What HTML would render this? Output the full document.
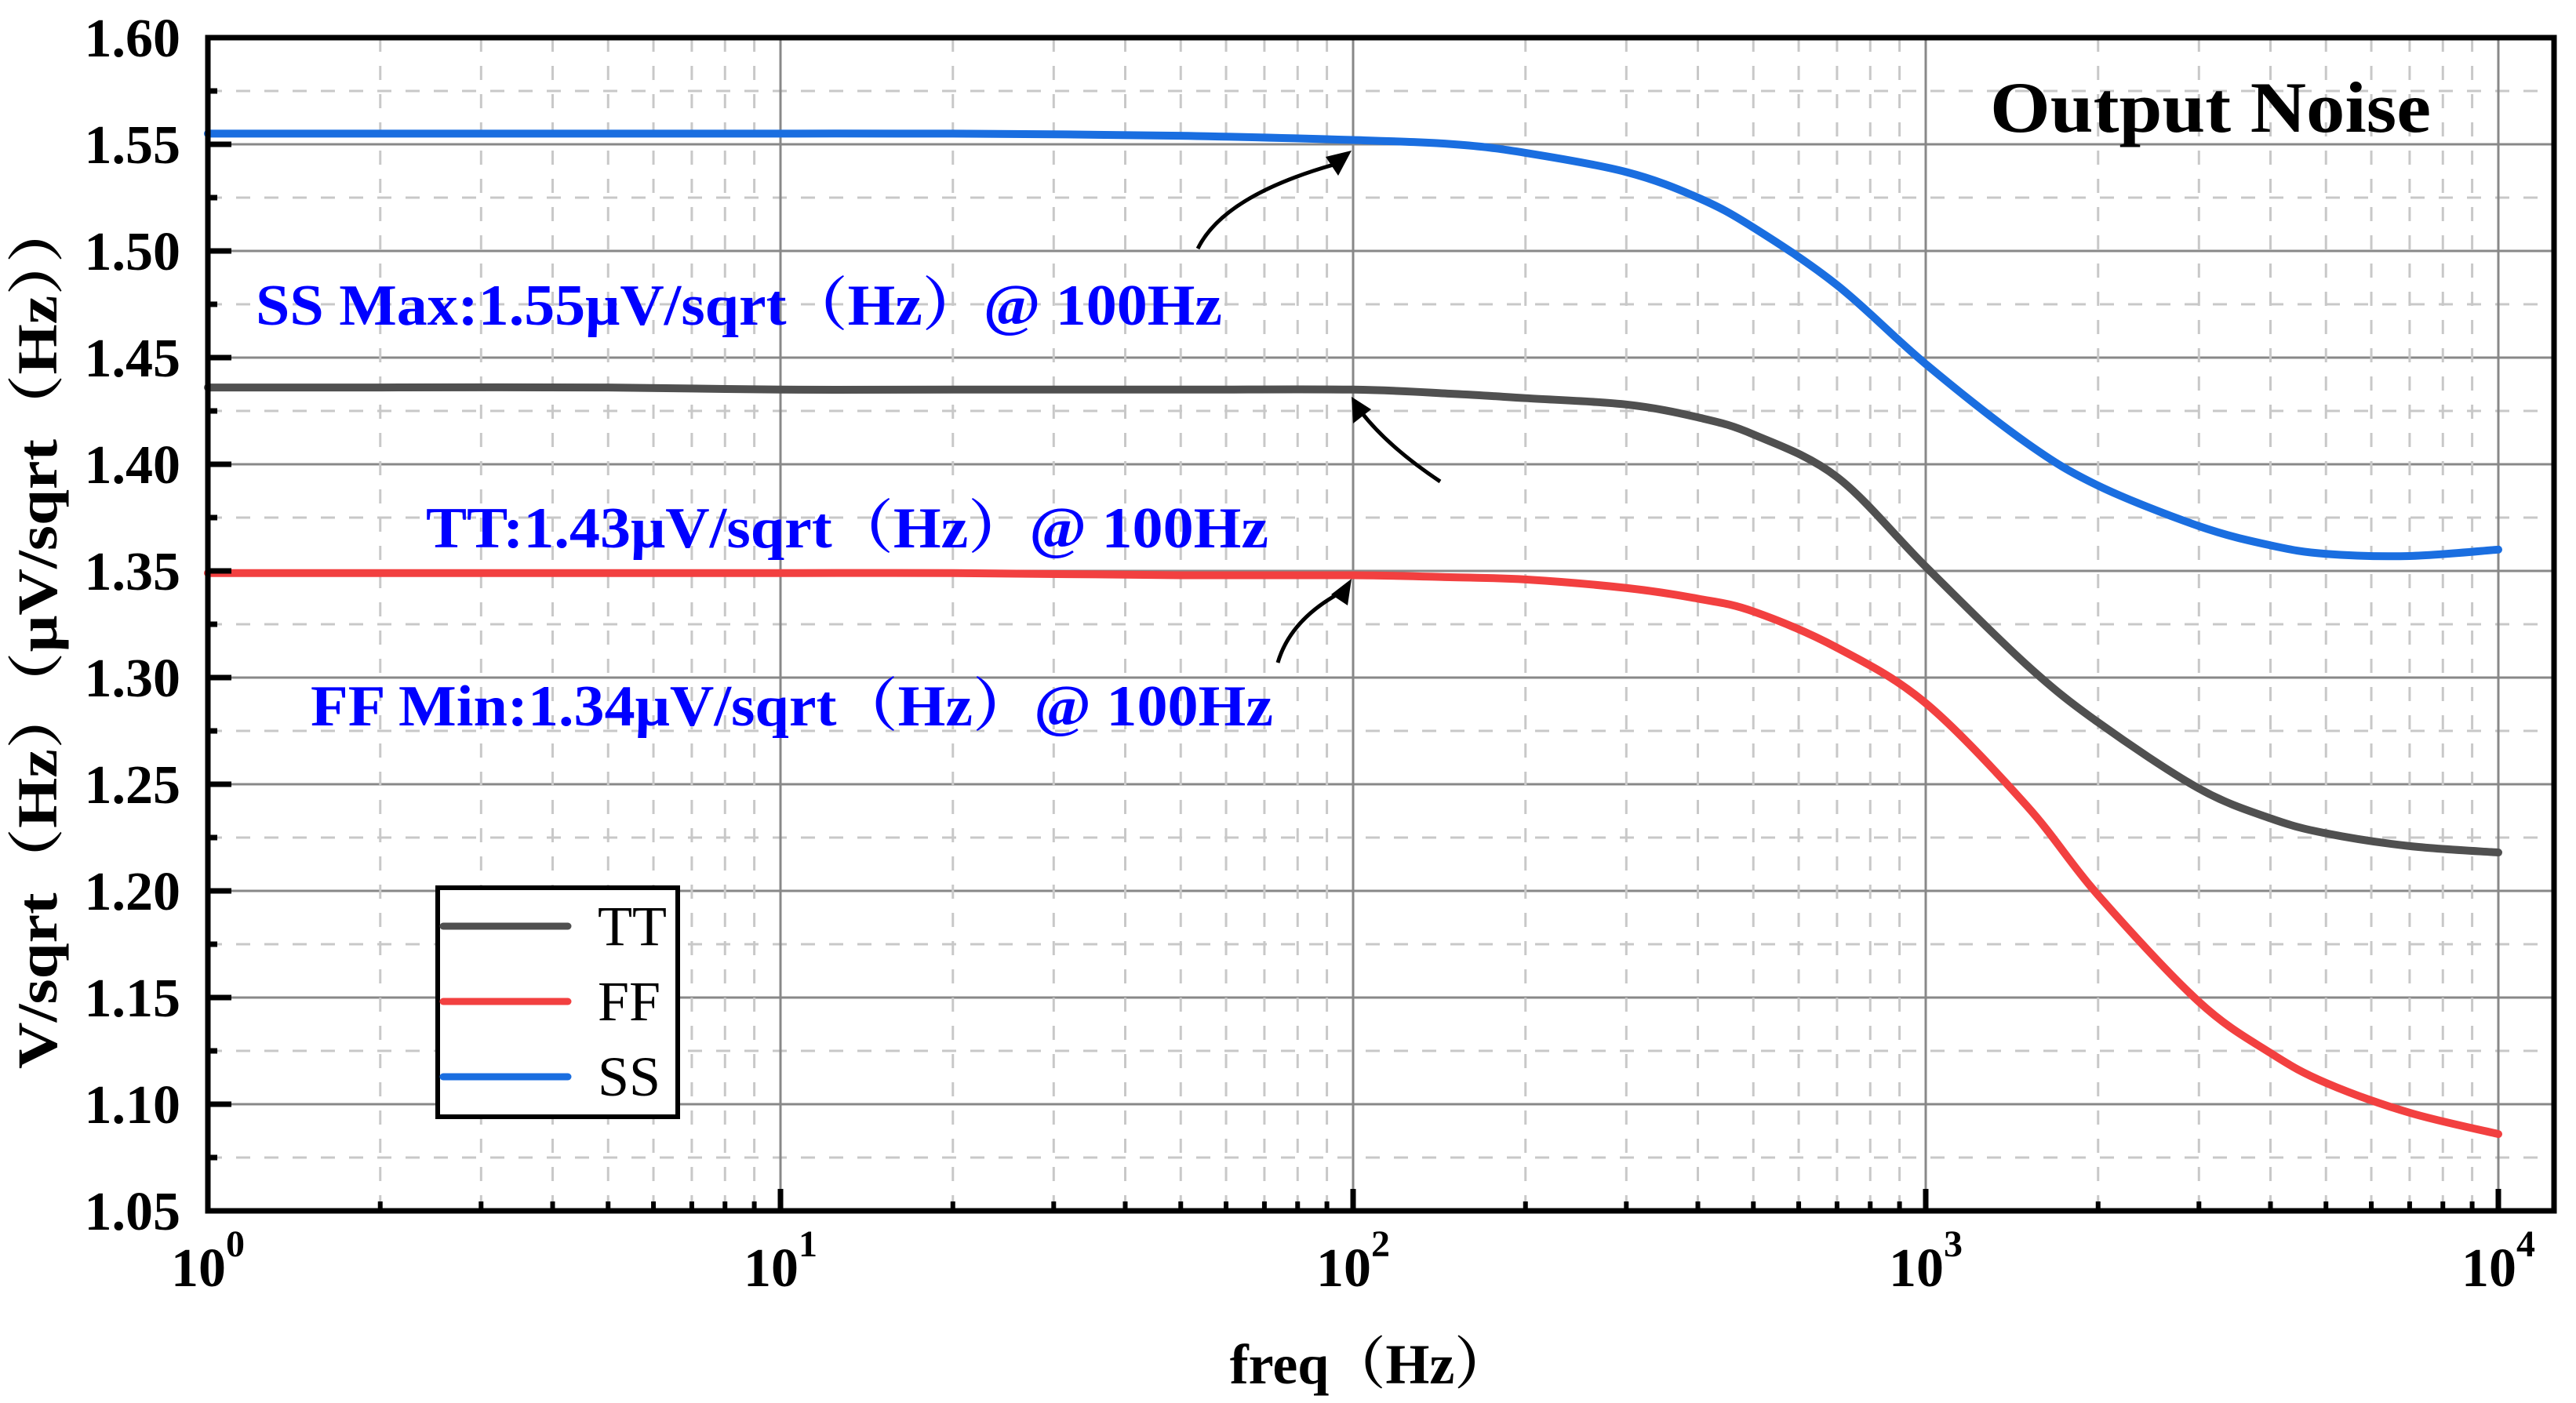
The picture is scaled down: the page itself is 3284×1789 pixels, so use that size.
<!DOCTYPE html>
<html><head><meta charset="utf-8"><style>
html,body{margin:0;padding:0;background:#fff;}
svg{display:block;}
text{font-family:"Liberation Serif","Noto Serif CJK SC",serif;}
</style></head><body>
<svg id="chart" width="3284" height="1789" viewBox="0 0 3284 1789" xmlns="http://www.w3.org/2000/svg">
<g id="grid"></g>
<g id="series"></g>
<g id="axes"></g>
<g id="ticklabels"></g>
<text x="2537" y="168" font-size="92" font-weight="bold" textLength="562" lengthAdjust="spacingAndGlyphs">Output Noise</text>
<text x="326" y="414" font-size="74" font-weight="bold" fill="#0000ff" textLength="1232" lengthAdjust="spacingAndGlyphs">SS Max:1.55μV/sqrt（Hz）@ 100Hz</text>
<text x="543" y="698" font-size="74" font-weight="bold" fill="#0000ff" textLength="1074" lengthAdjust="spacingAndGlyphs">TT:1.43μV/sqrt（Hz）@ 100Hz</text>
<text x="396" y="925" font-size="74" font-weight="bold" fill="#0000ff" textLength="1227" lengthAdjust="spacingAndGlyphs">FF Min:1.34μV/sqrt（Hz）@ 100Hz</text>
<g stroke="#000" stroke-width="5" fill="none">
<path d="M1527,317 Q1560,250 1700,210"/>
<path d="M1836,614 Q1770,570 1735,525"/>
<path d="M1629,845 Q1645,790 1710,755"/>
</g>
<g fill="#000">
<polygon points="1723,192 1690,200 1706,224"/>
<polygon points="1723,506 1725,540 1748,522"/>
<polygon points="1723,738 1697,758 1718,772"/>
</g>
<text x="1747" y="1764" font-size="72" font-weight="bold" text-anchor="middle">freq（Hz）</text>
<text transform="translate(72,808) rotate(-90)" font-size="72" font-weight="bold" text-anchor="middle" textLength="1110" lengthAdjust="spacingAndGlyphs">V/sqrt（Hz）（μV/sqrt（Hz））</text>
<g>
<rect x="558" y="1132" width="306" height="292" fill="#fff" stroke="#000" stroke-width="6"/>
<line x1="565" y1="1181" x2="724" y2="1181" stroke="#505050" stroke-width="9" stroke-linecap="round"/>
<line x1="565" y1="1277" x2="724" y2="1277" stroke="#f24040" stroke-width="9" stroke-linecap="round"/>
<line x1="565" y1="1373" x2="724" y2="1373" stroke="#1a6ee0" stroke-width="9" stroke-linecap="round"/>
<text x="762" y="1205" font-size="72">TT</text>
<text x="762" y="1301" font-size="72">FF</text>
<text x="762" y="1397" font-size="72">SS</text>
</g>
</svg>
<script>
const freqs = [1,2,5,10,20,50,100,150,200,300,400,500,700,1000,1500,2000,3000,4000,5000,7000,10000];
const ssValues = [1.555,1.555,1.555,1.555,1.555,1.554,1.552,1.550,1.546,1.537,1.525,1.511,1.484,1.447,1.410,1.390,1.371,1.362,1.358,1.357,1.360];
const ttValues = [1.436,1.436,1.436,1.435,1.435,1.435,1.435,1.433,1.431,1.428,1.422,1.414,1.394,1.352,1.306,1.279,1.248,1.234,1.227,1.221,1.218];
const ffValues = [1.349,1.349,1.349,1.349,1.349,1.348,1.348,1.347,1.346,1.342,1.337,1.331,1.314,1.288,1.240,1.198,1.148,1.124,1.110,1.096,1.086];
const yTickLabels = ["1.05","1.10","1.15","1.20","1.25","1.30","1.35","1.40","1.45","1.50","1.55","1.60"];
const xDecades = [0,1,2,3,4];

const NS="http://www.w3.org/2000/svg";
const L=265,R=3256,T=48,B=1544;
const yMin=1.05,yMax=1.60;
function xs(f){return L+Math.log10(f)*730;}
function ys(v){return B-(v-yMin)/(yMax-yMin)*(B-T);}
function mk(tag,attrs,parent){const e=document.createElementNS(NS,tag);for(const k in attrs)e.setAttribute(k,attrs[k]);parent.appendChild(e);return e;}
const grid=document.getElementById('grid'),axes=document.getElementById('axes'),tl=document.getElementById('ticklabels'),ser=document.getElementById('series');

for(let i=0;i<yTickLabels.length;i++){
  const v=parseFloat(yTickLabels[i]);const y=ys(v);
  if(i>0&&i<yTickLabels.length-1){const g=mk('line',{x1:L,x2:R,y1:y,y2:y,stroke:'#888','stroke-width':3},grid);
  }
  if(i<yTickLabels.length-1){const ym=ys(v+0.025);const g=mk('line',{x1:L,x2:R,y1:ym,y2:ym,stroke:'#c8c8c8','stroke-width':3,'stroke-dasharray':'18 18'},grid);
  
  const mt=mk('line',{x1:L,x2:L+12,y1:ym,y2:ym,stroke:'#000','stroke-width':7},axes);
  }
  const t=mk('line',{x1:L,x2:L+30,y1:y,y2:y,stroke:'#000','stroke-width':7},axes);
  
  const lb=mk('text',{x:230,y:y+24,'font-size':70,'font-weight':'bold','text-anchor':'end'},tl);
  lb.textContent=yTickLabels[i];
  
}
for(const d of xDecades){
  const x=xs(Math.pow(10,d));
  if(d>0){const g=mk('line',{x1:x,x2:x,y1:T,y2:B,stroke:'#888','stroke-width':3},grid);
  }
  const t=mk('line',{x1:x,x2:x,y1:B,y2:B-28,stroke:'#000','stroke-width':7},axes);
  
  const lb=mk('text',{x:x,y:1640,'font-size':70,'font-weight':'bold','text-anchor':'middle'},tl);
  
  const t1=document.createElementNS(NS,'tspan');t1.textContent='10';lb.appendChild(t1);
  const t2=document.createElementNS(NS,'tspan');t2.setAttribute('dy','-38');t2.setAttribute('font-size','48');t2.textContent=String(d);lb.appendChild(t2);
  if(d<4){for(let m=2;m<=9;m++){const xm=xs(m*Math.pow(10,d));
    const g=mk('line',{x1:xm,x2:xm,y1:T,y2:B,stroke:'#c8c8c8','stroke-width':3,'stroke-dasharray':'18 18'},grid);
    
    const mt=mk('line',{x1:xm,x2:xm,y1:B,y2:B-12,stroke:'#000','stroke-width':6},axes);
    }}
}
const frame=mk('rect',{x:L,y:T,width:R-L,height:B-T,fill:'none',stroke:'#000','stroke-width':7},axes);


function pathFor(vals){
  const p=freqs.map((f,i)=>[xs(f),ys(vals[i])]);
  let d='M'+p[0][0]+','+p[0][1];
  for(let i=0;i<p.length-1;i++){
    const p0=p[Math.max(0,i-1)],p1=p[i],p2=p[i+1],p3=p[Math.min(p.length-1,i+2)];
    const c1=[p1[0]+(p2[0]-p0[0])/6,p1[1]+(p2[1]-p0[1])/6];
    const c2=[p2[0]-(p3[0]-p1[0])/6,p2[1]-(p3[1]-p1[1])/6];
    d+=' C'+c1[0]+','+c1[1]+' '+c2[0]+','+c2[1]+' '+p2[0]+','+p2[1];
  }
  return d;
}
const sTT=mk('path',{d:pathFor(ttValues),fill:'none',stroke:'#505050','stroke-width':10,'stroke-linecap':'round'},ser);

const sFF=mk('path',{d:pathFor(ffValues),fill:'none',stroke:'#f24040','stroke-width':10,'stroke-linecap':'round'},ser);

const sSS=mk('path',{d:pathFor(ssValues),fill:'none',stroke:'#1a6ee0','stroke-width':10,'stroke-linecap':'round'},ser);

</script>
</body></html>
